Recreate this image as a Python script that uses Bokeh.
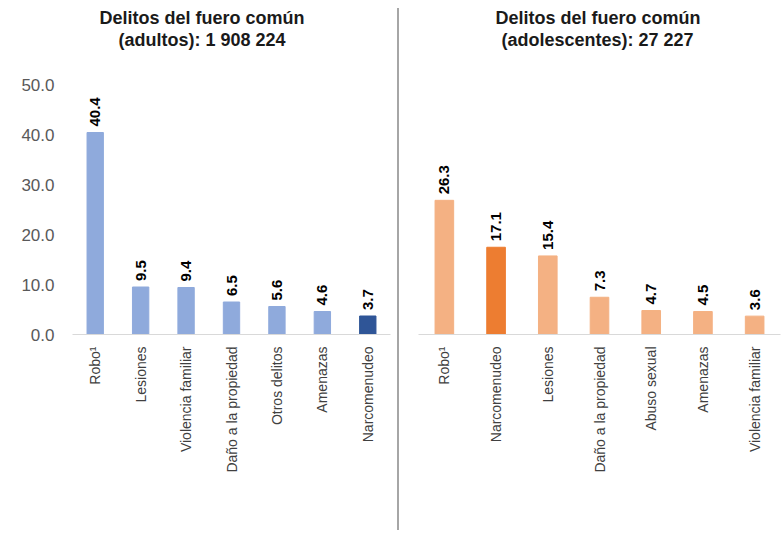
import math
from bokeh.plotting import figure
from bokeh.models import Range1d, FactorRange, FixedTicker, Title, ColumnDataSource, Div
from bokeh.layouts import row
from bokeh.embed import file_html
from bokeh.resources import INLINE
from bokeh.core.properties import value

# ---- data ----
adult_cats = ["Robo¹", "Lesiones", "Violencia familiar", "Daño a la propiedad",
              "Otros delitos", "Amenazas", "Narcomenudeo"]
adult_vals = [40.4, 9.5, 9.4, 6.5, 5.6, 4.6, 3.7]
adult_title = ["Delitos del fuero común", "(adultos): 1 908 224"]

teen_cats = ["Robo¹", "Narcomenudeo", "Lesiones", "Daño a la propiedad",
             "Abuso sexual", "Amenazas", "Violencia familiar"]
teen_vals = [26.3, 17.1, 15.4, 7.3, 4.7, 4.5, 3.6]
teen_title = ["Delitos del fuero común", "(adolescentes): 27 227"]

y_ticks = [0, 10, 20, 30, 40, 50]
highlight = "Narcomenudeo"

FONT = value("Liberation Sans")
H = 530


def title(text, offset, standoff, size="18px"):
    return Title(text=text, align="left", offset=offset,
                 text_font="Liberation Sans", text_font_size=size,
                 text_font_style="bold", text_color="#1a1a1a", standoff=standoff)


def panel(cats, vals, title_lines, light, dark, width, bl, br, y_end, show_y, offsets):
    colors = [dark if c == highlight else light for c in cats]
    src = ColumnDataSource(dict(cat=cats, val=vals, color=colors,
                                lab=[f"{v:.1f}" for v in vals]))
    p = figure(x_range=FactorRange(*cats), y_range=Range1d(0, y_end),
               width=width, height=H, output_backend="svg", toolbar_location=None,
               min_border_left=bl, min_border_right=br, min_border_top=84,
               min_border_bottom=H - 84 - 250,
               y_axis_location="left" if show_y else None)
    p.outline_line_color = None
    p.grid.grid_line_color = None
    p.vbar(x="cat", top="val", width=0.36, color="color", source=src)
    p.text(x="cat", y="val", text="lab", source=src, angle=math.pi / 2,
           text_align="left", text_baseline="middle", y_offset=-6,
           text_font=FONT, text_font_style="bold", text_font_size="15px",
           text_color="#000000")
    xa = p.xaxis[0]
    xa.axis_line_color = "#d9d9d9"
    xa.major_tick_line_color = None
    xa.minor_tick_line_color = None
    xa.major_label_orientation = math.pi / 2
    xa.major_label_text_font = "Liberation Sans"
    xa.major_label_text_font_size = "14px"
    xa.major_label_text_color = "#404040"
    xa.major_label_standoff = 6
    if show_y:
        ya = p.yaxis[0]
        ya.ticker = FixedTicker(ticks=y_ticks)
        ya.major_label_overrides = {t: f"{t:.1f}" for t in y_ticks}
        ya.axis_line_color = None
        ya.major_tick_line_color = None
        ya.minor_tick_line_color = None
        ya.major_label_standoff = 12
        ya.major_label_text_font = "Liberation Sans"
        ya.major_label_text_font_size = "17px"
        ya.major_label_text_color = "#595959"
    # title panels stack outward from the frame: spacer, line 2, line 1
    p.add_layout(title(" ", 0, 31, size="2px"), "above")
    p.add_layout(title(title_lines[1], offsets[1], 0), "above")
    p.add_layout(title(title_lines[0], offsets[0], 0), "above")
    return p


left = panel(adult_cats, adult_vals, adult_title, "#8FAADC", "#2F5597",
             396, 72, 6, 50, True, (27, 46))
right = panel(teen_cats, teen_vals, teen_title, "#F4B183", "#ED7D31",
              383, 19, 2, 49, False, (77, 83))

divider = Div(width=2, height=522, margin=(8, 0, 0, 1),
              styles={"background-color": "#a6a6a6"})

layout = row(left, divider, right, spacing=0)
open("out.html", "w").write(file_html(layout, INLINE))
